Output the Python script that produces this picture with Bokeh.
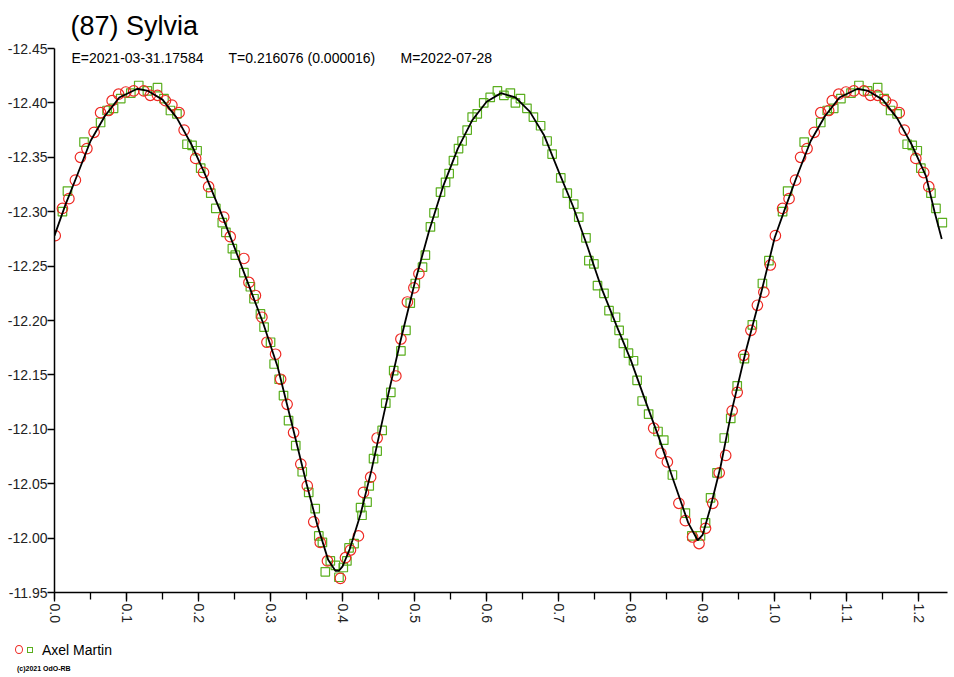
import math
from bokeh.plotting import figure
from bokeh.layouts import column
from bokeh.models import (Range1d, FixedTicker, SingleIntervalTicker, PrintfTickFormatter,
                          Label, ColumnDataSource, Div)
from bokeh.embed import file_html
from bokeh.resources import INLINE

# ---------------- texts ----------------
title_text = "(87) Sylvia"
epoch_text = "E=2021-03-31.17584"
period_text = "T=0.216076 (0.000016)"
made_text = "M=2022-07-28"
observer = "Axel Martin"
copyright_text = "(c)2021 OdO-RB"

# ---------------- axes ----------------
y_ticks = [-12.45, -12.40, -12.35, -12.30, -12.25, -12.20, -12.15, -12.10, -12.05, -12.00, -11.95]
phase_max = 1.24
wrap_limit = 0.235   # points with phase below this are repeated at phase + 1

# ---------------- red circles (session 1) ----------------
red_phase = [0.001, 0.011, 0.020, 0.029, 0.036, 0.045, 0.055, 0.064, 0.075, 0.080,
             0.089, 0.099, 0.110, 0.124, 0.133, 0.143, 0.154, 0.163, 0.173, 0.180,
             0.196, 0.207, 0.214, 0.235, 0.244, 0.263, 0.270, 0.279, 0.288, 0.295,
             0.307, 0.314, 0.323, 0.332, 0.342, 0.351, 0.360, 0.369, 0.379, 0.397,
             0.404, 0.411, 0.422, 0.429, 0.439, 0.448, 0.474, 0.481, 0.490, 0.499,
             0.506, 0.832, 0.842, 0.851, 0.867, 0.876, 0.886, 0.895, 0.904, 0.914,
             0.923, 0.932, 0.941, 0.948, 0.957, 0.967, 0.976, 0.985, 0.994]
red_mag = [-12.278, -12.303, -12.312, -12.329, -12.350, -12.358, -12.373, -12.391, -12.393, -12.402,
           -12.408, -12.410, -12.411, -12.411, -12.407, -12.407, -12.402, -12.398, -12.391, -12.375,
           -12.349, -12.336, -12.323, -12.295, -12.277, -12.257, -12.235, -12.223, -12.203, -12.180,
           -12.169, -12.146, -12.123, -12.097, -12.068, -12.048, -12.015, -11.996, -11.979, -11.963,
           -11.982, -11.989, -12.002, -12.042, -12.056, -12.092, -12.149, -12.183, -12.217, -12.230,
           -12.243, -12.101, -12.078, -12.070, -12.032, -12.016, -12.001, -11.995, -12.009, -12.032,
           -12.060, -12.076, -12.117, -12.134, -12.168, -12.191, -12.214, -12.226, -12.251]

# ---------------- green squares (session 2) ----------------
green_phase = [0.011, 0.018, 0.041, 0.064, 0.073, 0.082, 0.092, 0.106, 0.117, 0.129,
               0.143, 0.152, 0.161, 0.170, 0.184, 0.191, 0.198, 0.203, 0.217, 0.224,
               0.233, 0.238, 0.247, 0.251, 0.263, 0.272, 0.277, 0.286, 0.291, 0.300,
               0.305, 0.312, 0.318, 0.325, 0.335, 0.344, 0.353, 0.362, 0.367, 0.372,
               0.376, 0.383, 0.390, 0.395, 0.401, 0.406, 0.409, 0.416, 0.425, 0.427,
               0.434, 0.437, 0.443, 0.448, 0.455, 0.460, 0.467, 0.471, 0.481, 0.488,
               0.494, 0.501, 0.511, 0.515, 0.522, 0.527, 0.536, 0.543, 0.548, 0.554,
               0.561, 0.566, 0.573, 0.580, 0.587, 0.596, 0.605, 0.615, 0.624, 0.633,
               0.640, 0.647, 0.656, 0.665, 0.675, 0.684, 0.691, 0.703, 0.712, 0.721,
               0.728, 0.738, 0.742, 0.749, 0.754, 0.763, 0.770, 0.779, 0.784, 0.790,
               0.797, 0.804, 0.809, 0.816, 0.825, 0.838, 0.846, 0.858, 0.876, 0.885,
               0.897, 0.904, 0.911, 0.920, 0.930, 0.939, 0.948, 0.958, 0.969, 0.983,
               0.992]
green_mag = [-12.300, -12.319, -12.364, -12.382, -12.393, -12.395, -12.404, -12.409, -12.416, -12.411,
             -12.414, -12.404, -12.393, -12.390, -12.362, -12.361, -12.356, -12.340, -12.317, -12.303,
             -12.290, -12.281, -12.266, -12.260, -12.244, -12.231, -12.220, -12.206, -12.194, -12.180,
             -12.160, -12.146, -12.131, -12.108, -12.085, -12.061, -12.042, -12.027, -12.002, -11.996,
             -11.969, -11.979, -11.975, -11.964, -11.973, -11.979, -11.991, -11.995, -12.028, -12.021,
             -12.033, -12.048, -12.073, -12.080, -12.099, -12.124, -12.134, -12.154, -12.172, -12.191,
             -12.216, -12.234, -12.249, -12.260, -12.286, -12.299, -12.318, -12.327, -12.335, -12.347,
             -12.358, -12.365, -12.375, -12.387, -12.390, -12.400, -12.405, -12.411, -12.407, -12.409,
             -12.400, -12.404, -12.395, -12.387, -12.379, -12.365, -12.353, -12.331, -12.317, -12.307,
             -12.295, -12.276, -12.255, -12.252, -12.232, -12.225, -12.209, -12.203, -12.191, -12.179,
             -12.170, -12.163, -12.145, -12.126, -12.114, -12.098, -12.090, -12.058, -12.023, -12.002,
             -12.002, -12.014, -12.037, -12.060, -12.092, -12.110, -12.140, -12.165, -12.196, -12.234,
             -12.255]

# ---------------- fitted curve ----------------
fit_phase = [0.000, 0.015, 0.030, 0.050, 0.070, 0.090, 0.115, 0.130, 0.150, 0.170,
             0.190, 0.210, 0.230, 0.250, 0.270, 0.290, 0.310, 0.330, 0.350, 0.365,
             0.380, 0.390, 0.395, 0.400, 0.410, 0.425, 0.440, 0.460, 0.480, 0.500,
             0.520, 0.540, 0.560, 0.580, 0.600, 0.620, 0.640, 0.660, 0.680, 0.700,
             0.720, 0.740, 0.760, 0.780, 0.800, 0.820, 0.840, 0.860, 0.880, 0.893,
             0.900, 0.910, 0.925, 0.940, 0.960, 0.980, 1.000, 1.015, 1.030, 1.050,
             1.070, 1.090, 1.115, 1.130, 1.150, 1.170, 1.190, 1.210, 1.222, 1.232]
fit_mag = [-12.278, -12.306, -12.331, -12.365, -12.388, -12.405, -12.413, -12.411, -12.403, -12.386,
           -12.362, -12.333, -12.301, -12.267, -12.232, -12.197, -12.157, -12.104, -12.050, -12.012,
           -11.980, -11.970, -11.970, -11.974, -11.990, -12.022, -12.062, -12.122, -12.180, -12.234,
           -12.282, -12.324, -12.358, -12.384, -12.401, -12.409, -12.405, -12.392, -12.370, -12.337,
           -12.305, -12.268, -12.229, -12.196, -12.164, -12.127, -12.091, -12.052, -12.014, -11.998,
           -12.003, -12.026, -12.066, -12.116, -12.172, -12.222, -12.276, -12.304, -12.331, -12.365,
           -12.388, -12.405, -12.413, -12.411, -12.403, -12.386, -12.362, -12.333, -12.300, -12.275]


def folded(phase, mag):
    xs, ys = list(phase), list(mag)
    for ph, m in zip(phase, mag):
        if ph < wrap_limit:
            xs.append(ph + 1.0)
            ys.append(m)
    return xs, ys


rx, ry = folded(red_phase, red_mag)
gx, gy = folded(green_phase, green_mag)
red_src = ColumnDataSource(dict(phase=rx, mag=ry))
green_src = ColumnDataSource(dict(phase=gx, mag=gy))
fit_src = ColumnDataSource(dict(phase=fit_phase, mag=fit_mag))

FONT = "Liberation Sans"
RED = "#ee2a24"
GREEN = "#5aae1e"

MAIN_H = 636
p = figure(width=954, height=MAIN_H, output_backend="svg", toolbar_location=None,
           x_range=Range1d(0, phase_max), y_range=Range1d(y_ticks[-1], y_ticks[0]),
           min_border_left=54, min_border_right=7, min_border_top=48,
           min_border_bottom=MAIN_H - 592)
p.grid.visible = False
p.outline_line_color = None
p.background_fill_color = "white"
p.border_fill_color = "white"

# main title in the top panel
p.title.text = title_text
p.title.align = "left"
p.title.offset = 16
p.title.text_font = FONT
p.title.text_font_size = "27px"
p.title.text_font_style = "normal"
p.title.text_color = "black"
p.title.standoff = 16

p.scatter("phase", "mag", source=green_src, marker="square", size=8.5,
          fill_color=None, line_color=GREEN, line_width=1.2)
p.scatter("phase", "mag", source=red_src, marker="circle", size=10.5,
          fill_color=None, line_color=RED, line_width=1.2)
p.line("phase", "mag", source=fit_src, line_color="black", line_width=1.8)

# x axis
xa = p.xaxis[0]
xa.ticker = SingleIntervalTicker(interval=0.1, num_minor_ticks=2)
xa.formatter = PrintfTickFormatter(format="%.1f")
xa.major_label_orientation = -math.pi / 2
xa.major_tick_in = 0
xa.major_tick_out = 9
xa.minor_tick_in = 0
xa.minor_tick_out = 7
xa.axis_line_width = 1.5
xa.major_tick_line_width = 1.3
xa.minor_tick_line_width = 1.3
xa.major_label_text_font = FONT
xa.major_label_text_font_size = "14px"
xa.major_label_text_color = "#222222"
xa.major_label_standoff = 2

# y axis
ya = p.yaxis[0]
ya.ticker = FixedTicker(ticks=y_ticks, minor_ticks=[])
ya.formatter = PrintfTickFormatter(format="%.2f")
ya.major_tick_in = 0
ya.major_tick_out = 7
ya.axis_line_width = 1.5
ya.major_tick_line_width = 1.3
ya.major_label_text_font = FONT
ya.major_label_text_font_size = "14px"
ya.major_label_text_color = "#222222"
ya.major_label_standoff = 0

# subtitle pieces (frame: left = 54, bottom = 592)
def add_text(x_px, y_px, text, size):
    p.add_layout(Label(x=x_px - 54, y=592 - y_px, x_units="screen", y_units="screen",
                       text=text, text_font=FONT, text_font_size=size,
                       text_color="black", text_baseline="alphabetic", text_align="left"))

add_text(71, 57, epoch_text, "14px")
add_text(228, 57, period_text, "14px")
add_text(400, 57, made_text, "14px")

# ---------------- legend strip below the chart ----------------
LEG_H = 677 - MAIN_H
legend_html = f"""
<div style="position:relative;width:954px;height:{LEG_H}px;font-family:'{FONT}',Arial,sans-serif;color:black;background:white;">
  <span style="position:absolute;left:15px;top:9px;width:8px;height:9px;border:1.6px solid {RED};border-radius:50%;"></span>
  <span style="position:absolute;left:27px;top:11px;width:6px;height:6px;border:1.6px solid {GREEN};"></span>
  <span style="position:absolute;left:42px;top:6px;font-size:14px;line-height:16px;white-space:nowrap;">{observer}</span>
  <span style="position:absolute;left:17px;top:29px;font-size:7px;font-weight:bold;line-height:8px;white-space:nowrap;">{copyright_text}</span>
</div>
"""
legend_div = Div(text=legend_html, width=954, height=LEG_H, margin=0)

layout = column(p, legend_div, spacing=0)
open("out.html", "w").write(file_html(layout, INLINE))
